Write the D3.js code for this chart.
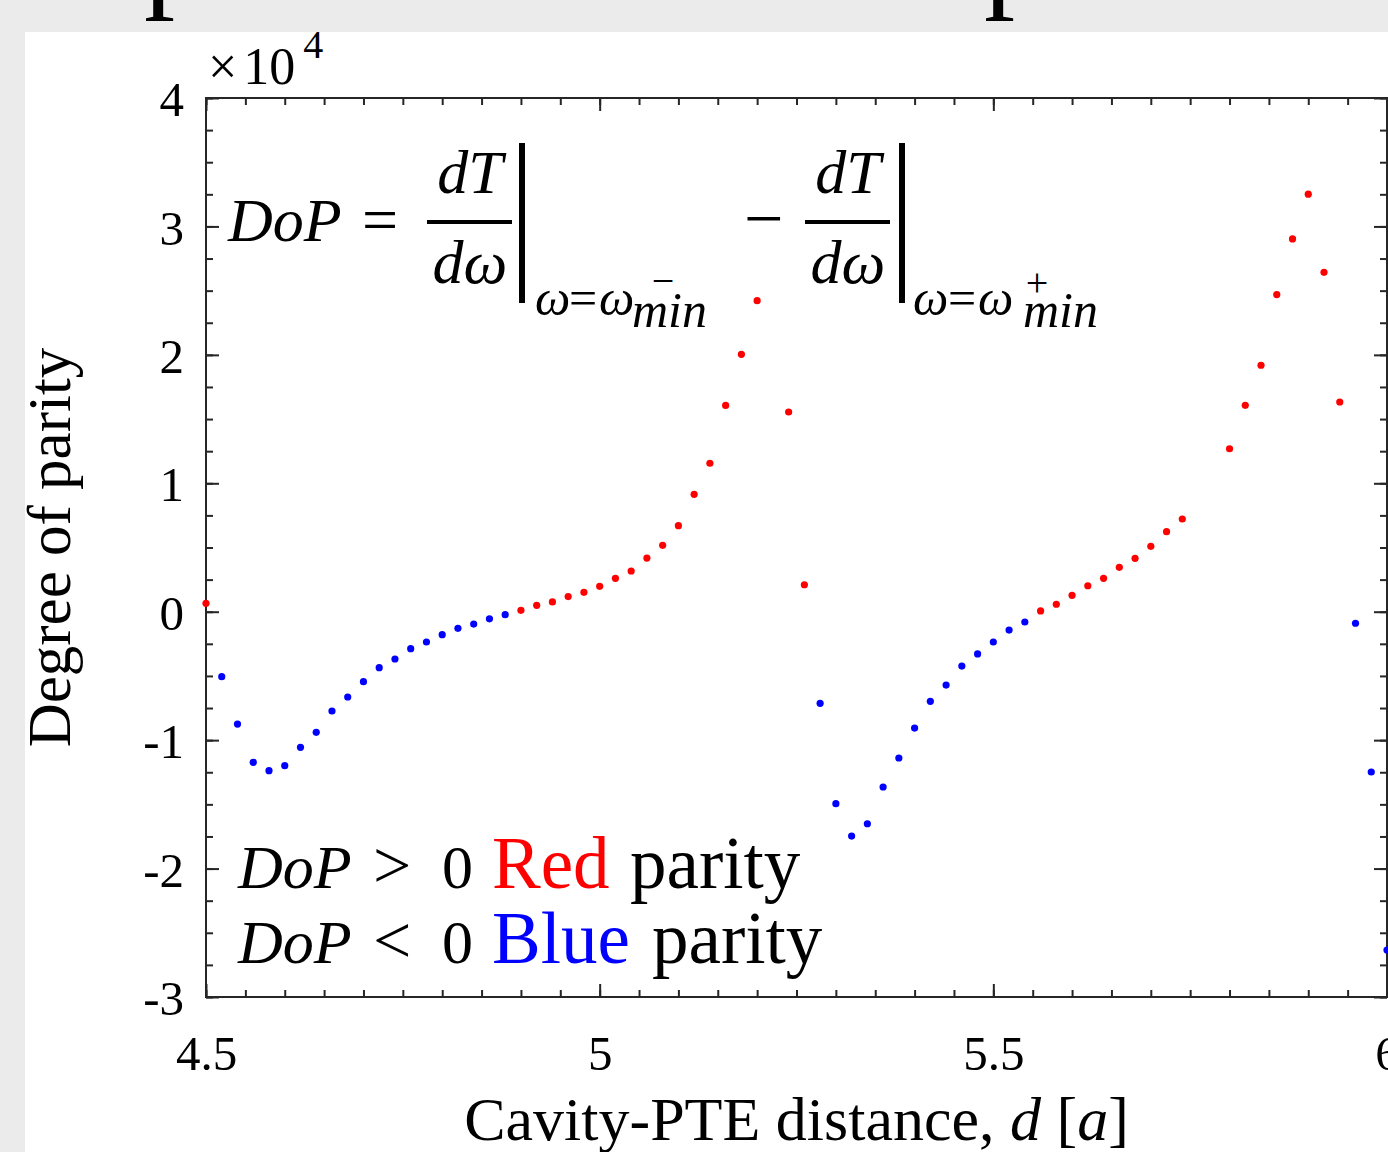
<!DOCTYPE html>
<html>
<head>
<meta charset="utf-8">
<script src="https://cdn.jsdelivr.net/npm/d3@7"></script>
<style>
  body { margin: 0; background: #ebebeb; }
  svg { display: block; }
  text { font-family: "Liberation Serif", "Times New Roman", serif; fill: #000; }
</style>
</head>
<body>
<div id="chart"></div>
<script>
// distance d [a] of each sample
var distance = [
  4.50, 4.52, 4.54, 4.56, 4.58, 4.60, 4.62, 4.64, 4.66, 4.68,
  4.70, 4.72, 4.74, 4.76, 4.78, 4.80, 4.82, 4.84, 4.86, 4.88,
  4.90, 4.92, 4.94, 4.96, 4.98, 5.00, 5.02, 5.04, 5.06, 5.08,
  5.10, 5.12, 5.14, 5.16, 5.18, 5.20, 5.24, 5.26, 5.28, 5.30,
  5.32, 5.34, 5.36, 5.38, 5.40, 5.42, 5.44, 5.46, 5.48, 5.50,
  5.52, 5.54, 5.56, 5.58, 5.60, 5.62, 5.64, 5.66, 5.68, 5.70,
  5.72, 5.74, 5.80, 5.82, 5.84, 5.86, 5.88, 5.90, 5.92, 5.94,
  5.96, 5.98, 6.00
];

// degree of parity at each distance
var dop = [
  650, -5060, -8750, -11730, -12380, -11990, -10560, -9390, -7730, -6640,
  -5450, -4360, -3680, -2880, -2360, -1790, -1290, -960, -550, -230,
  110, 500, 760, 1180, 1510, 1980, 2600, 3170, 4180, 5170,
  6700, 9140, 11560, 16060, 20040, 24220, 15550, 2100, -7130, -14950,
  -17470, -16510, -13650, -11390, -9060, -6980, -5710, -4230, -3290, -2360,
  -1430, -800, 60, 580, 1280, 2020, 2600, 3460, 4160, 5090,
  6230, 7220, 12690, 16070, 19190, 24690, 29030, 32510, 26430, 16330,
  -900, -12480, -26350
];

var xTicks = [4.5, 5, 5.5, 6];
var xTickLabels = ["4.5", "5", "5.5", "6"];
var yTicks = [-30000, -20000, -10000, 0, 10000, 20000, 30000, 40000];
var yTickLabels = ["-3", "-2", "-1", "0", "1", "2", "3", "4"];

(function()
{
    var W = 1388, H = 1152;
    var left = 206, right = 1387, top = 98, bottom = 997;
    var axisColor = "#262626";

    var svg = d3.select("#chart").append("svg")
        .attr("width", W)
        .attr("height", H);

    // slide background + white panel
    svg.append("rect").attr("width", W).attr("height", H).attr("fill", "#ebebeb");
    svg.append("rect").attr("x", 25).attr("y", 32).attr("width", W - 25).attr("height", H - 32).attr("fill", "#fff");

    // bits of the slide title that peek in at the top
    svg.append("text").attr("x", 144).attr("y", -6).style("font-size", "124px").text("p");
    svg.append("text").attr("x", 984).attr("y", -6).style("font-size", "124px").text("p");

    //Scales
    var x = d3.scaleLinear().domain([4.5, 6]).range([left, right]);
    var y = d3.scaleLinear().domain([-30000, 40000]).range([bottom, top]);

    var minorX = d3.range(4.5, 6.0001, 0.05);
    var minorY = d3.range(-30000, 40001, 2500);

    function styleAxis(g) {
        g.select(".domain").remove();
        g.selectAll("line").attr("stroke", axisColor).attr("stroke-width", 2);
    }

    // minor ticks, all four sides (pointing inward)
    svg.append("g").attr("transform", "translate(0," + bottom + ")")
        .call(d3.axisBottom(x).tickValues(minorX).tickSize(-7).tickFormat(""))
        .call(styleAxis);
    svg.append("g").attr("transform", "translate(0," + top + ")")
        .call(d3.axisTop(x).tickValues(minorX).tickSize(-7).tickFormat(""))
        .call(styleAxis);
    svg.append("g").attr("transform", "translate(" + left + ",0)")
        .call(d3.axisLeft(y).tickValues(minorY).tickSize(-7).tickFormat(""))
        .call(styleAxis);
    svg.append("g").attr("transform", "translate(" + right + ",0)")
        .call(d3.axisRight(y).tickValues(minorY).tickSize(-7).tickFormat(""))
        .call(styleAxis);

    // major ticks
    var xAxis = svg.append("g").attr("transform", "translate(0," + bottom + ")")
        .call(d3.axisBottom(x).tickValues(xTicks).tickSize(-13).tickPadding(73)
            .tickFormat(function(d, i) { return xTickLabels[i]; }))
        .call(styleAxis);
    xAxis.selectAll("text").style("font-size", "49px").attr("dy", 0).attr("fill", "#000")
        .attr("font-family", null);

    var yAxis = svg.append("g").attr("transform", "translate(" + left + ",0)")
        .call(d3.axisLeft(y).tickValues(yTicks).tickSize(-13).tickPadding(22)
            .tickFormat(function(d, i) { return yTickLabels[i]; }))
        .call(styleAxis);
    yAxis.selectAll("text").style("font-size", "49px").attr("dy", "0.36em").attr("fill", "#000")
        .attr("font-family", null);

    svg.append("g").attr("transform", "translate(0," + top + ")")
        .call(d3.axisTop(x).tickValues(xTicks).tickSize(-13).tickFormat(""))
        .call(styleAxis);
    svg.append("g").attr("transform", "translate(" + right + ",0)")
        .call(d3.axisRight(y).tickValues(yTicks).tickSize(-13).tickFormat(""))
        .call(styleAxis);

    // box
    svg.append("rect")
        .attr("x", left).attr("y", top)
        .attr("width", right - left).attr("height", bottom - top)
        .attr("fill", "none").attr("stroke", axisColor).attr("stroke-width", 2);

    // exponent label
    var expo = svg.append("text").attr("x", 208).attr("y", 84).style("font-size", "52px");
    expo.append("tspan").text("\u00d7");
    expo.append("tspan").attr("dx", 6).text("10");
    expo.append("tspan").attr("dx", 8).attr("dy", -26).style("font-size", "40px").text("4");

    // points
    var pts = distance.map(function(d, i) { return { d: d, v: dop[i] }; });
    svg.append("g").selectAll("circle")
        .data(pts)
        .enter().append("circle")
        .attr("cx", function(p) { return x(p.d); })
        .attr("cy", function(p) { return y(p.v); })
        .attr("r", 3.6)
        .attr("fill", function(p) { return p.v > 0 ? "#ff0000" : "#0000ff"; });

    // axis titles
    var xl = svg.append("text")
        .attr("x", (left + right) / 2).attr("y", 1140)
        .attr("text-anchor", "middle").style("font-size", "62px");
    xl.append("tspan").text("Cavity-PTE distance, ");
    xl.append("tspan").style("font-style", "italic").text("d");
    xl.append("tspan").text(" [");
    xl.append("tspan").style("font-style", "italic").text("a");
    xl.append("tspan").text("]");

    svg.append("text")
        .attr("transform", "translate(70," + ((top + bottom) / 2) + ") rotate(-90)")
        .attr("text-anchor", "middle").style("font-size", "61px")
        .text("Degree of parity");

    // formula
    var f = svg.append("g");
    function mtext(xp, yp, size, str, italic, anchor) {
        return f.append("text").attr("x", xp).attr("y", yp)
            .attr("text-anchor", anchor || "start")
            .style("font-size", size + "px")
            .style("font-style", italic ? "italic" : "normal")
            .text(str);
    }
    mtext(228, 241, 62, "DoP", true);
    mtext(362, 241, 64, "=", false);

    function fracPart(cx, barX) {
        mtext(cx, 193, 62, "dT", true, "middle");
        f.append("line").attr("x1", cx - 43).attr("x2", cx + 42)
            .attr("y1", 222).attr("y2", 222).attr("stroke", "#000").attr("stroke-width", 4);
        mtext(cx, 283, 62, "d\u03c9", true, "middle");
        f.append("rect").attr("x", barX).attr("y", 143).attr("width", 6).attr("height", 160).attr("fill", "#000");
    }
    fracPart(470, 519);
    fracPart(848, 899);

    // subscripts  ω=ω_min with -/+ on top
    function subscript(x0, xEq, x1, xMin, mark, markX, markY) {
        mtext(x0, 315, 50, "\u03c9", true);
        mtext(xEq, 315, 50, "=", false);
        mtext(x1, 315, 50, "\u03c9", true);
        mtext(xMin, 327, 50, "min", true);
        mtext(markX, markY, 40, mark, false, "middle");
    }
    subscript(535, 569, 599, 632, "\u2212", 663, 294);
    subscript(913, 948, 978, 1023, "+", 1037, 296);

    mtext(744, 242, 70, "\u2212", false);

    // legend text
    var legendRows = [
        { y: 888, sign: ">", word: "Red", color: "#ff0000", parityX: 630 },
        { y: 963, sign: "<", word: "Blue", color: "#0000ff", parityX: 652 }
    ];
    legendRows.forEach(function(r) {
        mtext(238, r.y, 62, "DoP", true);
        mtext(373, r.y, 68, r.sign, false);
        mtext(442, r.y, 62, "0", false);
        mtext(492, r.y, 73, r.word, false).style("fill", r.color);
        mtext(r.parityX, r.y, 73, "parity", false);
    });
})()
</script>
</body>
</html>
